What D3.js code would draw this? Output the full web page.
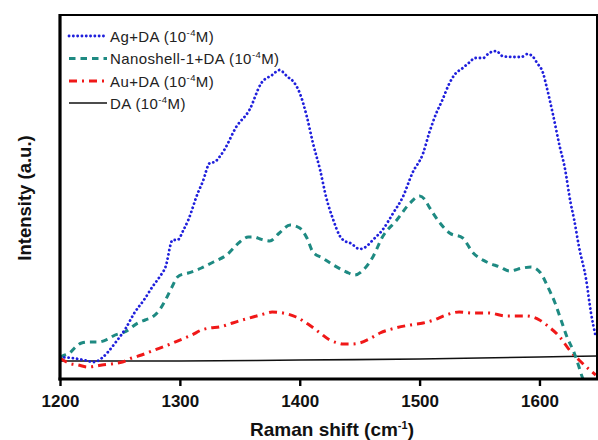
<!DOCTYPE html>
<html>
<head>
<meta charset="utf-8">
<script src="https://cdn.jsdelivr.net/npm/d3@7"></script>
<style>
  html, body { margin: 0; padding: 0; background: #fff; }
  svg { display: block; }
  text { font-family: "Liberation Sans", Arial, sans-serif; }
</style>
</head>
<body>
<svg id="chart" width="598" height="440"></svg>
<script>
// Raman shift (cm^-1) and intensity (a.u.) for each sample
const agShift = [1200,1210,1220,1228,1235,1240,1246,1255,1262,1270,1277,1283,1288,1294,1298,1303,1307,1315,1319,1325,1329,1333,1337,1347,1358,1368,1377,1383,1390,1395,1400,1406,1411,1417,1422,1428,1433,1439,1442,1450,1455,1461,1469,1478,1486,1494,1503,1508,1514,1519,1525,1529,1536,1542,1546,1553,1558,1564,1569,1578,1585,1590,1594,1598,1603,1606,1611,1617,1621,1626,1629,1633,1639,1643,1647];
const agIntensity = [22,21,19,17,21,27,36,51,66,79,92,102,112,139,139,149,159,186,197,216,217,222,229,252,269,296,304,309,302,297,286,262,236,209,182,159,144,137,136,130,132,139,149,166,182,206,226,246,266,279,296,304,311,317,321,321,326,328,323,322,322,325,323,316,306,292,266,232,212,176,159,132,99,66,42];

const shellShift = [1200,1204,1208,1213,1218,1225,1232,1240,1246,1254,1265,1271,1277,1283,1288,1293,1298,1303,1307,1312,1318,1328,1339,1350,1357,1362,1367,1375,1383,1392,1400,1406,1411,1419,1428,1439,1446,1453,1461,1469,1481,1492,1500,1504,1508,1517,1525,1536,1544,1556,1567,1575,1586,1593,1601,1607,1613,1618,1623,1629,1633,1636,1640];
const shellIntensity = [22,24,26,32,36,37,37,40,44,47,56,59,62,69,79,91,102,105,106,108,111,117,124,137,142,142,140,138,146,154,151,141,127,121,114,107,104,109,122,142,159,176,183,180,172,156,146,141,127,117,112,108,111,112,106,92,76,59,42,26,12,1,-7];

const auShift = [1200,1207,1215,1223,1230,1235,1243,1252,1260,1268,1279,1290,1302,1310,1318,1325,1333,1344,1352,1361,1370,1377,1386,1397,1408,1417,1425,1432,1436,1443,1450,1458,1467,1480,1492,1503,1512,1522,1533,1544,1558,1572,1589,1600,1608,1617,1625,1633,1642,1647];
const auIntensity = [21,16,14,12,13,14,15,17,21,24,29,34,40,44,49,51,52,56,59,62,65,67,66,62,54,46,39,36,35,35,36,40,46,51,54,56,59,64,67,66,66,63,63,59,52,42,29,19,9,4];

const daShift = [1200,1300,1400,1500,1550,1600,1648];
const daIntensity = [18,18,19,20,21,22,23];

const xTicks = [1200,1300,1400,1500,1600];

const series = [
  { name: "Ag+DA", x: agShift, y: agIntensity, color: "#1f1fdc", width: 2.8, dash: "0.1 4.2", cap: "round" },
  { name: "Nanoshell-1+DA", x: shellShift, y: shellIntensity, color: "#1e8a82", width: 3, dash: "6.5 5", cap: "butt" },
  { name: "Au+DA", x: auShift, y: auIntensity, color: "#f01818", width: 3, dash: "8 5 2 5", cap: "butt" },
  { name: "DA", x: daShift, y: daIntensity, color: "#111", width: 1.6, dash: null, cap: "butt" }
];

const svg = d3.select("#chart");
const plotLeft = 60, plotRight = 597, plotTop = 15, plotBottom = 379;

const x = d3.scaleLinear().domain([1200, 1648]).range([plotLeft, plotRight]);
const y = d3.scaleLinear().domain([0, 364]).range([plotBottom, plotTop]);

svg.append("defs").append("clipPath").attr("id", "plotClip")
  .append("rect").attr("x", plotLeft).attr("y", plotTop)
  .attr("width", plotRight - plotLeft).attr("height", plotBottom - plotTop);

const line = d3.line()
  .x(d => x(d[0])).y(d => y(d[1]))
  .curve(d3.curveMonotoneX);

const plot = svg.append("g").attr("clip-path", "url(#plotClip)");
series.slice().reverse().forEach(s => {
  plot.append("path")
    .datum(d3.zip(s.x, s.y))
    .attr("d", line)
    .attr("fill", "none")
    .attr("stroke", s.color)
    .attr("stroke-width", s.width)
    .attr("stroke-dasharray", s.dash)
    .attr("stroke-linecap", s.cap);
});

// frame
svg.append("rect")
  .attr("x", plotLeft).attr("y", plotTop)
  .attr("width", plotRight - plotLeft).attr("height", plotBottom - plotTop)
  .attr("fill", "none").attr("stroke", "#000").attr("stroke-width", 2);
svg.append("line").attr("x1", plotLeft).attr("x2", plotLeft).attr("y1", plotTop - 1).attr("y2", plotBottom + 1.5)
  .attr("stroke", "#000").attr("stroke-width", 3.2);
svg.append("line").attr("x1", plotLeft - 1.5).attr("x2", plotRight + 1).attr("y1", plotBottom).attr("y2", plotBottom)
  .attr("stroke", "#000").attr("stroke-width", 3.2);

// bottom axis
const xAxis = d3.axisBottom(x).tickValues(xTicks).tickSize(7).tickSizeOuter(0).tickPadding(9).tickFormat(d3.format("d"));
const gx = svg.append("g").attr("transform", `translate(0,${plotBottom})`).call(xAxis);
gx.select(".domain").remove();
gx.selectAll(".tick line").attr("stroke", "#000").attr("stroke-width", 2.4);
gx.selectAll(".tick text")
  .attr("fill", "#111")
  .style("font-size", "17px")
  .style("font-weight", "bold")
  .style("font-family", "'Liberation Sans', Arial, sans-serif");

// axis titles
const xTitle = svg.append("text")
  .attr("x", 332).attr("y", 436)
  .attr("text-anchor", "middle")
  .style("font-size", "19px").style("font-weight", "bold").attr("fill", "#111");
xTitle.append("tspan").text("Raman shift (cm");
xTitle.append("tspan").attr("dy", -7).style("font-size", "11px").text("-1");
xTitle.append("tspan").attr("dy", 7).text(")");

svg.append("text")
  .attr("transform", `translate(31,198) rotate(-90)`)
  .attr("text-anchor", "middle")
  .style("font-size", "18.5px").style("font-weight", "bold").attr("fill", "#111")
  .text("Intensity (a.u.)");

// legend
const legendY = [36, 58.5, 81, 103];
const legend = svg.append("g");
series.forEach((s, i) => {
  const ly = legendY[i];
  legend.append("line")
    .attr("x1", 69).attr("x2", 107).attr("y1", ly).attr("y2", ly)
    .attr("stroke", s.color)
    .attr("stroke-width", s.width)
    .attr("stroke-dasharray", s.dash)
    .attr("stroke-linecap", s.cap);
  const t = legend.append("text")
    .attr("x", 110).attr("y", ly + 5.5)
    .style("font-size", "15px").style("letter-spacing", "0.4px").attr("fill", "#222");
  t.append("tspan").text(s.name + " (10");
  t.append("tspan").attr("dy", -6).style("font-size", "9.5px").text("-4");
  t.append("tspan").attr("dy", 6).text("M)");
});
</script>
</body>
</html>
